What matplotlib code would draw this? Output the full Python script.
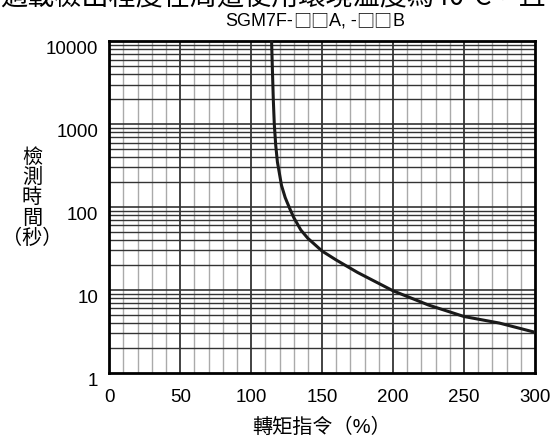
import matplotlib.pyplot as plt
import matplotlib.transforms as mtransforms
from matplotlib.ticker import FixedLocator, NullFormatter

plt.rcParams['font.family'] = ['Liberation Sans', 'Noto Sans CJK TC', 'DejaVu Sans']

# overload detection curve: torque command (%) vs detection time (s)
torque = [114.4, 114.9, 115.6, 116.3, 117.3, 118.5, 121.4, 124.0, 127.3, 130,
          135, 140, 150, 160, 175, 200, 225, 250, 275, 300]
det_time = [10000, 5000, 2000, 1000, 560, 350, 182, 130, 95, 75,
            53, 42, 29.5, 23, 16.3, 9.8, 6.6, 4.8, 4.0, 3.1]

x_ticks = [0, 50, 100, 150, 200, 250, 300]
y_ticks = [1, 10, 100, 1000, 10000]
y_ticklabels = ['1', '10', '100', '1000', '10000']

# model name, boxes are placeholders for the rating code
title_parts = ['SGM7F-', '□□', 'A, -', '□□', 'B']

fig = plt.figure(figsize=(5.52, 4.39), dpi=100)
ax = fig.add_axes([0.198, 0.148, 0.771, 0.756])

ax.set_yscale('log')
ax.set_xlim(0, 300)
ax.set_ylim(1, 10000)

# grid: light minor verticals every 10 %, dark every 50 %
for xv in range(10, 300, 10):
    if xv % 50 == 0:
        ax.axvline(xv, color='#222222', lw=1.2, zorder=1)
    else:
        ax.axvline(xv, color='#aaaaaa', lw=1.0, zorder=1)
for dec in [1, 10, 100, 1000]:
    for m in range(1, 10):
        yv = dec * m
        if yv <= 1 or yv >= 10000:
            continue
        ax.axhline(yv, color='#333333', lw=1.0 if m > 1 else 1.2, zorder=1)

ax.plot(torque, det_time, color='#1a1a1a', lw=2.2, zorder=3)

ax.xaxis.set_major_locator(FixedLocator(x_ticks))
ax.yaxis.set_major_locator(FixedLocator(y_ticks))
ax.yaxis.set_minor_formatter(NullFormatter())
ax.set_yticklabels(y_ticklabels)
ax.tick_params(which='both', length=0, labelsize=13.5)
ax.tick_params(axis='x', pad=11)
ax.tick_params(axis='y', pad=8)
# y labels sit a little below their grid lines
shift = mtransforms.ScaledTranslation(0, -5 / 100, fig.dpi_scale_trans)
for lbl in ax.get_yticklabels():
    lbl.set_transform(lbl.get_transform() + shift)
for sp in ax.spines.values():
    sp.set_linewidth(2.0)
    sp.set_color('black')

ax.set_xlabel('轉矩指令（%）', fontsize=14.5, labelpad=8)
fig.text(0.058, 0.549, '檢\n測\n時\n間\n（秒）', ha='center', va='center',
         fontsize=14.5, linespacing=1.08)

# subtitle: latin in Liberation Sans, boxes in the CJK font, laid end to end
fig.canvas.draw()
renderer = fig.canvas.get_renderer()
x0 = 225 / 552
y0 = 1 - 26 / 439
for part in title_parts:
    fam = ['Noto Sans CJK TC'] if '□' in part else ['Liberation Sans']
    t = fig.text(x0, y0, part, ha='left', va='baseline', fontsize=13,
                 family=fam)
    bb = t.get_window_extent(renderer)
    x0 += bb.width / fig.bbox.width

fig.text(0.0, 1.008, '過載檢出程度在周遭使用環境溫度為40°C，且', ha='left',
         va='center', fontsize=19.5, family=['Noto Sans CJK TC', 'DejaVu Sans'])

fig.savefig('out.png', dpi=100)
